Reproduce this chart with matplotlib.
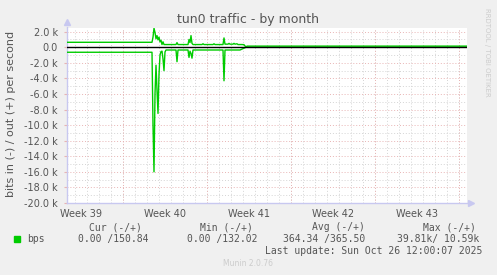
import numpy as np
import matplotlib
matplotlib.use("Agg")
import matplotlib.pyplot as plt

# hours since the left edge of the graph (2 h per pixel, 800 h shown)
out_hours = [0, 170, 172, 174, 176, 178, 180, 182, 184, 186, 188, 190, 192, 194,
             218, 220, 222, 242, 244, 246, 248, 250, 252, 270, 272, 274, 292, 294,
             296, 312, 314, 316, 322, 324, 326, 332, 334, 336, 340, 342, 350, 354,
             358, 360, 800]
out_bps = [640, 640, 1300, 2450, 1900, 1100, 1500, 950, 1300, 700, 900, 350, 700, 350,
           350, 600, 350, 350, 1000, 600, 1500, 500, 350, 350, 450, 350, 350, 450,
           350, 350, 1200, 400, 400, 500, 400, 400, 500, 400, 450, 350, 350, 330,
           20, 150, 150]

in_hours = [0, 170, 172, 174, 176, 178, 180, 182, 184, 186, 188, 190, 192, 194, 196,
            198, 218, 220, 222, 242, 244, 246, 248, 250, 252, 312, 314, 316, 346,
            358, 800]
in_bps = [-640, -640, -10000, -16000, -6000, -2300, -5500, -8500, -3500, -1000, -550,
          -500, -1500, -3000, -600, -350, -350, -1850, -350, -350, -1300, -500, -800,
          -1400, -350, -350, -4300, -350, -350, 0, 0]

week_names = ["Week 39", "Week 40", "Week 41", "Week 42", "Week 43"]
week_start = 112      # first week boundary, hours
y_ticks = np.arange(-20000, 2001, 2000)

grey = "#555555"
red_grid = "#E8B4B4"
fig = plt.figure(figsize=(4.97, 2.75), dpi=100, facecolor="#F0F0F0")
ax = fig.add_axes([67 / 497, 1 - 203 / 275, 400 / 497, 175.5 / 275])
ax.set_facecolor("white")

ax.plot(out_hours, out_bps, color="#00CC00", lw=1.0, zorder=3)
ax.plot(in_hours, in_bps, color="#00CC00", lw=1.0, zorder=3)
ax.axhline(0, color="black", lw=1.0, zorder=4)

ax.set_xlim(0, 800)
ax.set_ylim(-20000, 2540)

# grid
days = np.arange(week_start % 24, 800, 24)
bounds = np.arange(week_start, 800, 168)
centers = bounds - 84
ax.set_xticks(days, minor=True)
ax.set_xticks(centers, week_names)
ax.set_yticks(y_ticks, [("%.1f k" % (v / 1000)) if v != 0 else "0.0" for v in y_ticks])
ax.set_yticks(np.arange(-19000, 2540, 2000), minor=True)
ax.grid(which="minor", color="#D4D4D4", lw=0.7, ls=(0, (1, 2)))
ax.grid(which="major", axis="y", color=red_grid, lw=0.7, ls=(0, (1, 2)))
for b in bounds:
    ax.axvline(b, color=red_grid, lw=0.7, ls=(0, (1, 2)), zorder=1)
ax.set_axisbelow(True)

ax.tick_params(which="both", length=0, labelsize=7, labelcolor=grey)
ax.tick_params(axis="y", which="major", length=2.5, color=red_grid, pad=4)
ax.tick_params(axis="x", pad=4)
for s in ["top", "right"]:
    ax.spines[s].set_visible(False)
for s in ["left", "bottom"]:
    ax.spines[s].set_color("#C8C8F0")
    ax.spines[s].set_linewidth(1.0)
ax.plot([0], [1.03], marker="^", color="#C8C8F0", ms=5, transform=ax.transAxes, clip_on=False)
ax.plot([1.009], [0], marker=">", color="#C8C8F0", ms=5, transform=ax.transAxes, clip_on=False)

fig.text(248 / 497, 1 - 19 / 275, "tun0 traffic - by month", ha="center", va="center",
         fontsize=9, color=grey)
fig.text(11 / 497, 1 - 114 / 275, "bits in (-) / out (+) per second", rotation=90,
         ha="center", va="center", fontsize=8, color=grey)
fig.text(487 / 497, 1 - 52 / 275, "RRDTOOL / TOBI OETIKER", rotation=270, ha="center",
         va="center", fontsize=5, color="#CCCCCC")

def px(x, y, s, **kw):
    kw.setdefault("family", "DejaVu Sans Mono")
    kw.setdefault("fontsize", 7)
    kw.setdefault("color", grey)
    fig.text(x / 497, 1 - y / 275, s, va="center", **kw)

px(89, 227, "Cur (-/+)")
px(200, 227, "Min (-/+)")
px(312, 227, "Avg (-/+)")
px(423, 227, "Max (-/+)")
fig.patches.append(plt.Rectangle((14 / 497, 1 - 242 / 275), 6 / 497, 6 / 275,
                                 transform=fig.transFigure, color="#00CC00"))
px(27, 239, "bps")
px(78, 239, "0.00 /150.84")
px(187, 239, "0.00 /132.02")
px(283, 239, "364.34 /365.50")
px(397, 239, "39.81k/ 10.59k")
px(482, 251, "Last update: Sun Oct 26 12:00:07 2025", ha="right")
px(248, 264, "Munin 2.0.76", ha="center", family="DejaVu Sans", fontsize=5.5, color="#CCCCCC")

fig.savefig("out.png", dpi=100, facecolor=fig.get_facecolor())
